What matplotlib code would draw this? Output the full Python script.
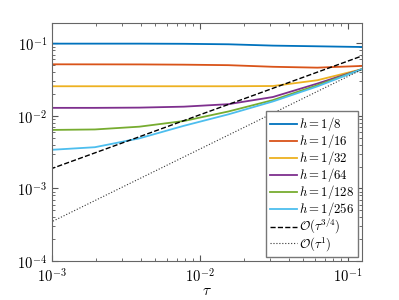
import matplotlib
matplotlib.use('Agg')
import matplotlib.pyplot as plt
from matplotlib.ticker import LogLocator, NullFormatter, FuncFormatter
import numpy as np

plt.rcParams['mathtext.fontset'] = 'cm'
plt.rcParams['font.family'] = 'serif'
plt.rcParams['font.serif'] = ['DejaVu Serif']

# time steps tau = 1/1024 ... 1/8
tau = [1/1024, 1/512, 1/256, 1/128, 1/64, 1/32, 1/16, 1/8]

# errors for each mesh size h
err_h8 = [0.0990, 0.0990, 0.0990, 0.0985, 0.0970, 0.0930, 0.0910, 0.0890]
err_h16 = [0.0514, 0.0513, 0.0512, 0.0508, 0.0500, 0.0475, 0.0462, 0.0488]
err_h32 = [0.0256, 0.0256, 0.0256, 0.0256, 0.0256, 0.0258, 0.0310, 0.0440]
err_h64 = [0.0129, 0.0129, 0.0130, 0.0134, 0.0145, 0.0182, 0.0279, 0.0440]
err_h128 = [0.0064, 0.0065, 0.0071, 0.0085, 0.0115, 0.0165, 0.0265, 0.0440]
err_h256 = [0.0034, 0.0037, 0.0049, 0.0073, 0.0105, 0.0158, 0.0255, 0.0440]

labels = [r'$h=1/8$', r'$h=1/16$', r'$h=1/32$', r'$h=1/64$',
          r'$h=1/128$', r'$h=1/256$']
colors = ['#0072BD', '#D95319', '#EDB120', '#7E2F8E', '#77AC30', '#4DBEEE']

# reference slopes (end points)
ref_tau = [1/1024, 1/8]
ref_34 = [0.00185, 0.0669]
ref_1 = [0.00034, 0.0435]

fig = plt.figure(figsize=(3.99, 3.0), dpi=100)
ax = fig.add_axes([0.130, 0.130, 0.777, 0.793])

for err, lab, c in zip([err_h8, err_h16, err_h32, err_h64, err_h128, err_h256],
                       labels, colors):
    ax.loglog(tau, err, color=c, lw=1.3, label=lab)

ax.loglog(ref_tau, ref_34, 'k--', lw=1.0, label=r'$\mathcal{O}(\tau^{3/4})$')
ax.loglog(ref_tau, ref_1, color='#333333', ls=':', lw=0.8,
          label=r'$\mathcal{O}(\tau^{1})$')

ax.set_xlim(1e-3, 0.125)
ax.set_ylim(1e-4, 0.19)
ax.set_xlabel(r'$\tau$', fontsize=11, labelpad=0)

pow_fmt = FuncFormatter(lambda v, p: r'$10^{%d}$' % int(round(np.log10(v))))
ax.xaxis.set_major_locator(LogLocator(base=10, numticks=10))
ax.yaxis.set_major_locator(LogLocator(base=10, numticks=10))
ax.xaxis.set_major_formatter(pow_fmt)
ax.yaxis.set_major_formatter(pow_fmt)
ax.xaxis.set_minor_locator(LogLocator(base=10, subs=range(2, 10), numticks=20))
ax.yaxis.set_minor_locator(LogLocator(base=10, subs=range(2, 10), numticks=20))
ax.xaxis.set_minor_formatter(NullFormatter())
ax.yaxis.set_minor_formatter(NullFormatter())
ax.tick_params(which='both', direction='in', top=True, right=True,
               color='#555555', labelsize=10.5)
ax.tick_params(axis='x', pad=4)
ax.tick_params(which='major', length=4)
ax.tick_params(which='minor', length=2)
for s in ax.spines.values():
    s.set_color('#666666')
    s.set_linewidth(0.8)

leg = ax.legend(loc='lower right', fontsize=9.2, handlelength=2.1,
                handletextpad=0.2, labelspacing=-0.08, borderpad=0.3,
                borderaxespad=0.3, fancybox=False, framealpha=1)
leg.get_frame().set_edgecolor('#777777')
leg.get_frame().set_linewidth(1.0)

fig.savefig('out.png', dpi=100)
